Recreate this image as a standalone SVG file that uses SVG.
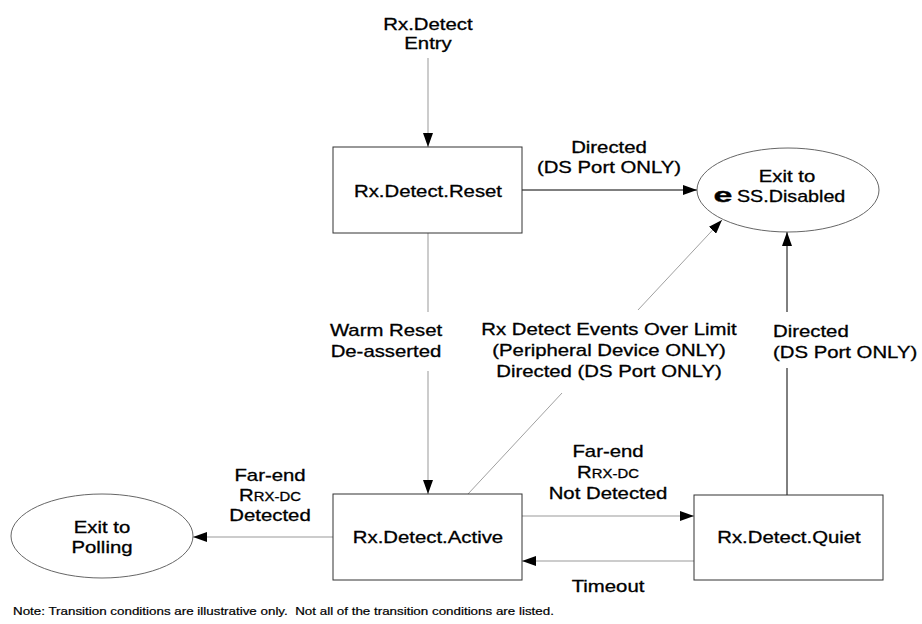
<svg xmlns="http://www.w3.org/2000/svg" width="922" height="624" viewBox="0 0 922 624">
<style>
  .t { font-family: "Liberation Sans", Arial, sans-serif; font-size: 16.4px; fill: #000; stroke: #000; stroke-width: 0.3px; text-anchor: middle; }
  .s { font-size: 12px; }
  .n { font-family: "Liberation Sans", Arial, sans-serif; font-size: 10.7px; fill: #000; stroke: #000; stroke-width: 0.2px; white-space: pre; }
  .box { fill: #fff; stroke: #333; stroke-width: 1; }
  .ell { fill: #fff; stroke: #666; stroke-width: 1; }
  .c { fill: none; stroke: #000; stroke-width: 1; }
  .g { fill: none; stroke: #999; stroke-width: 1; }
  .d { fill: none; stroke: #888; stroke-width: 0.8; }
</style>
<defs>
  <marker id="ah" markerUnits="userSpaceOnUse" markerWidth="14" markerHeight="10" viewBox="0 0 14 10" refX="14" refY="5" orient="auto">
    <path d="M0,0 L14,5 L0,10 z" fill="#000"/>
  </marker>
</defs>
<rect width="922" height="624" fill="#fff"/>

<g id="connectors">
  <line class="g" x1="428" y1="58" x2="428" y2="147" marker-end="url(#ah)"/>
  <line class="c" x1="522" y1="190" x2="697" y2="190" marker-end="url(#ah)"/>
  <line class="g" x1="428" y1="233" x2="428" y2="312"/>
  <line class="g" x1="428" y1="371" x2="428" y2="494" marker-end="url(#ah)"/>
  <line class="d" x1="468" y1="494" x2="562" y2="393"/>
  <line class="d" x1="638" y1="310" x2="722" y2="220" marker-end="url(#ah)"/>
  <line class="c" x1="787" y1="495" x2="787" y2="368"/>
  <line class="c" x1="787" y1="312" x2="787" y2="232" marker-end="url(#ah)"/>
  <line class="g" x1="522" y1="516" x2="694" y2="516" marker-end="url(#ah)"/>
  <line class="g" x1="694" y1="561" x2="522" y2="561" marker-end="url(#ah)"/>
  <line class="g" x1="333" y1="537" x2="193" y2="537" marker-end="url(#ah)"/>
</g>

<g id="labels">
  <g transform="translate(428,30) scale(1.24,1)"><text class="t"><tspan x="0" y="0">Rx.Detect</tspan><tspan x="0" y="19.5">Entry</tspan></text></g>
  <g transform="translate(609,153) scale(1.24,1)"><text class="t"><tspan x="0" y="0">Directed</tspan><tspan x="0" y="20">(DS Port ONLY)</tspan></text></g>
  <g transform="translate(386,336) scale(1.24,1)"><text class="t"><tspan x="0" y="0">Warm Reset</tspan><tspan x="0" y="21">De-asserted</tspan></text></g>
  <g transform="translate(609,335) scale(1.24,1)"><text class="t"><tspan x="0" y="0">Rx Detect Events Over Limit</tspan><tspan x="0" y="21">(Peripheral Device ONLY)</tspan><tspan x="0" y="42">Directed (DS Port ONLY)</tspan></text></g>
  <g transform="translate(773,337) scale(1.24,1)"><text class="t" style="text-anchor:start"><tspan x="0" y="0">Directed</tspan><tspan x="0" y="21">(DS Port ONLY)</tspan></text></g>
  <g transform="translate(608,457) scale(1.24,1)"><text class="t"><tspan x="0" y="0">Far-end</tspan><tspan x="0" y="21">R<tspan class="s">RX-DC</tspan></tspan><tspan x="0" y="42">Not Detected</tspan></text></g>
  <g transform="translate(608,592) scale(1.24,1)"><text class="t">Timeout</text></g>
  <g transform="translate(270,481) scale(1.24,1)"><text class="t"><tspan x="0" y="0">Far-end</tspan><tspan x="0" y="20">R<tspan class="s">RX-DC</tspan></tspan><tspan x="0" y="40">Detected</tspan></text></g>
  <g transform="translate(13,615) scale(1.25,1)"><text class="n" xml:space="preserve">Note: Transition conditions are illustrative only.  Not all of the transition conditions are listed.</text></g>
</g>

<g id="rx-detect-reset">
  <rect class="box" x="333" y="147" width="189" height="86"/>
  <g transform="translate(428,197) scale(1.24,1)"><text class="t">Rx.Detect.Reset</text></g>
</g>

<g id="exit-ss-disabled">
  <ellipse class="ell" cx="788" cy="190" rx="91" ry="42"/>
  <g transform="translate(787,182) scale(1.24,1)"><text class="t">Exit to</text></g>
  <g transform="translate(723,202) scale(1.7,1)"><text class="t" style="font-size:20px;font-weight:bold">e</text></g>
  <g transform="translate(737,202) scale(1.2,1)"><text class="t" style="text-anchor:start">SS.Disabled</text></g>
</g>

<g id="rx-detect-active">
  <rect class="box" x="333" y="494" width="189" height="86"/>
  <g transform="translate(428,543) scale(1.24,1)"><text class="t">Rx.Detect.Active</text></g>
</g>

<g id="rx-detect-quiet">
  <rect class="box" x="694" y="495" width="189" height="85"/>
  <g transform="translate(789,543) scale(1.24,1)"><text class="t">Rx.Detect.Quiet</text></g>
</g>

<g id="exit-polling">
  <ellipse class="ell" cx="102" cy="536" rx="91" ry="42"/>
  <g transform="translate(102,533) scale(1.24,1)"><text class="t"><tspan x="0" y="0">Exit to</tspan><tspan x="0" y="20">Polling</tspan></text></g>
</g>
</svg>
